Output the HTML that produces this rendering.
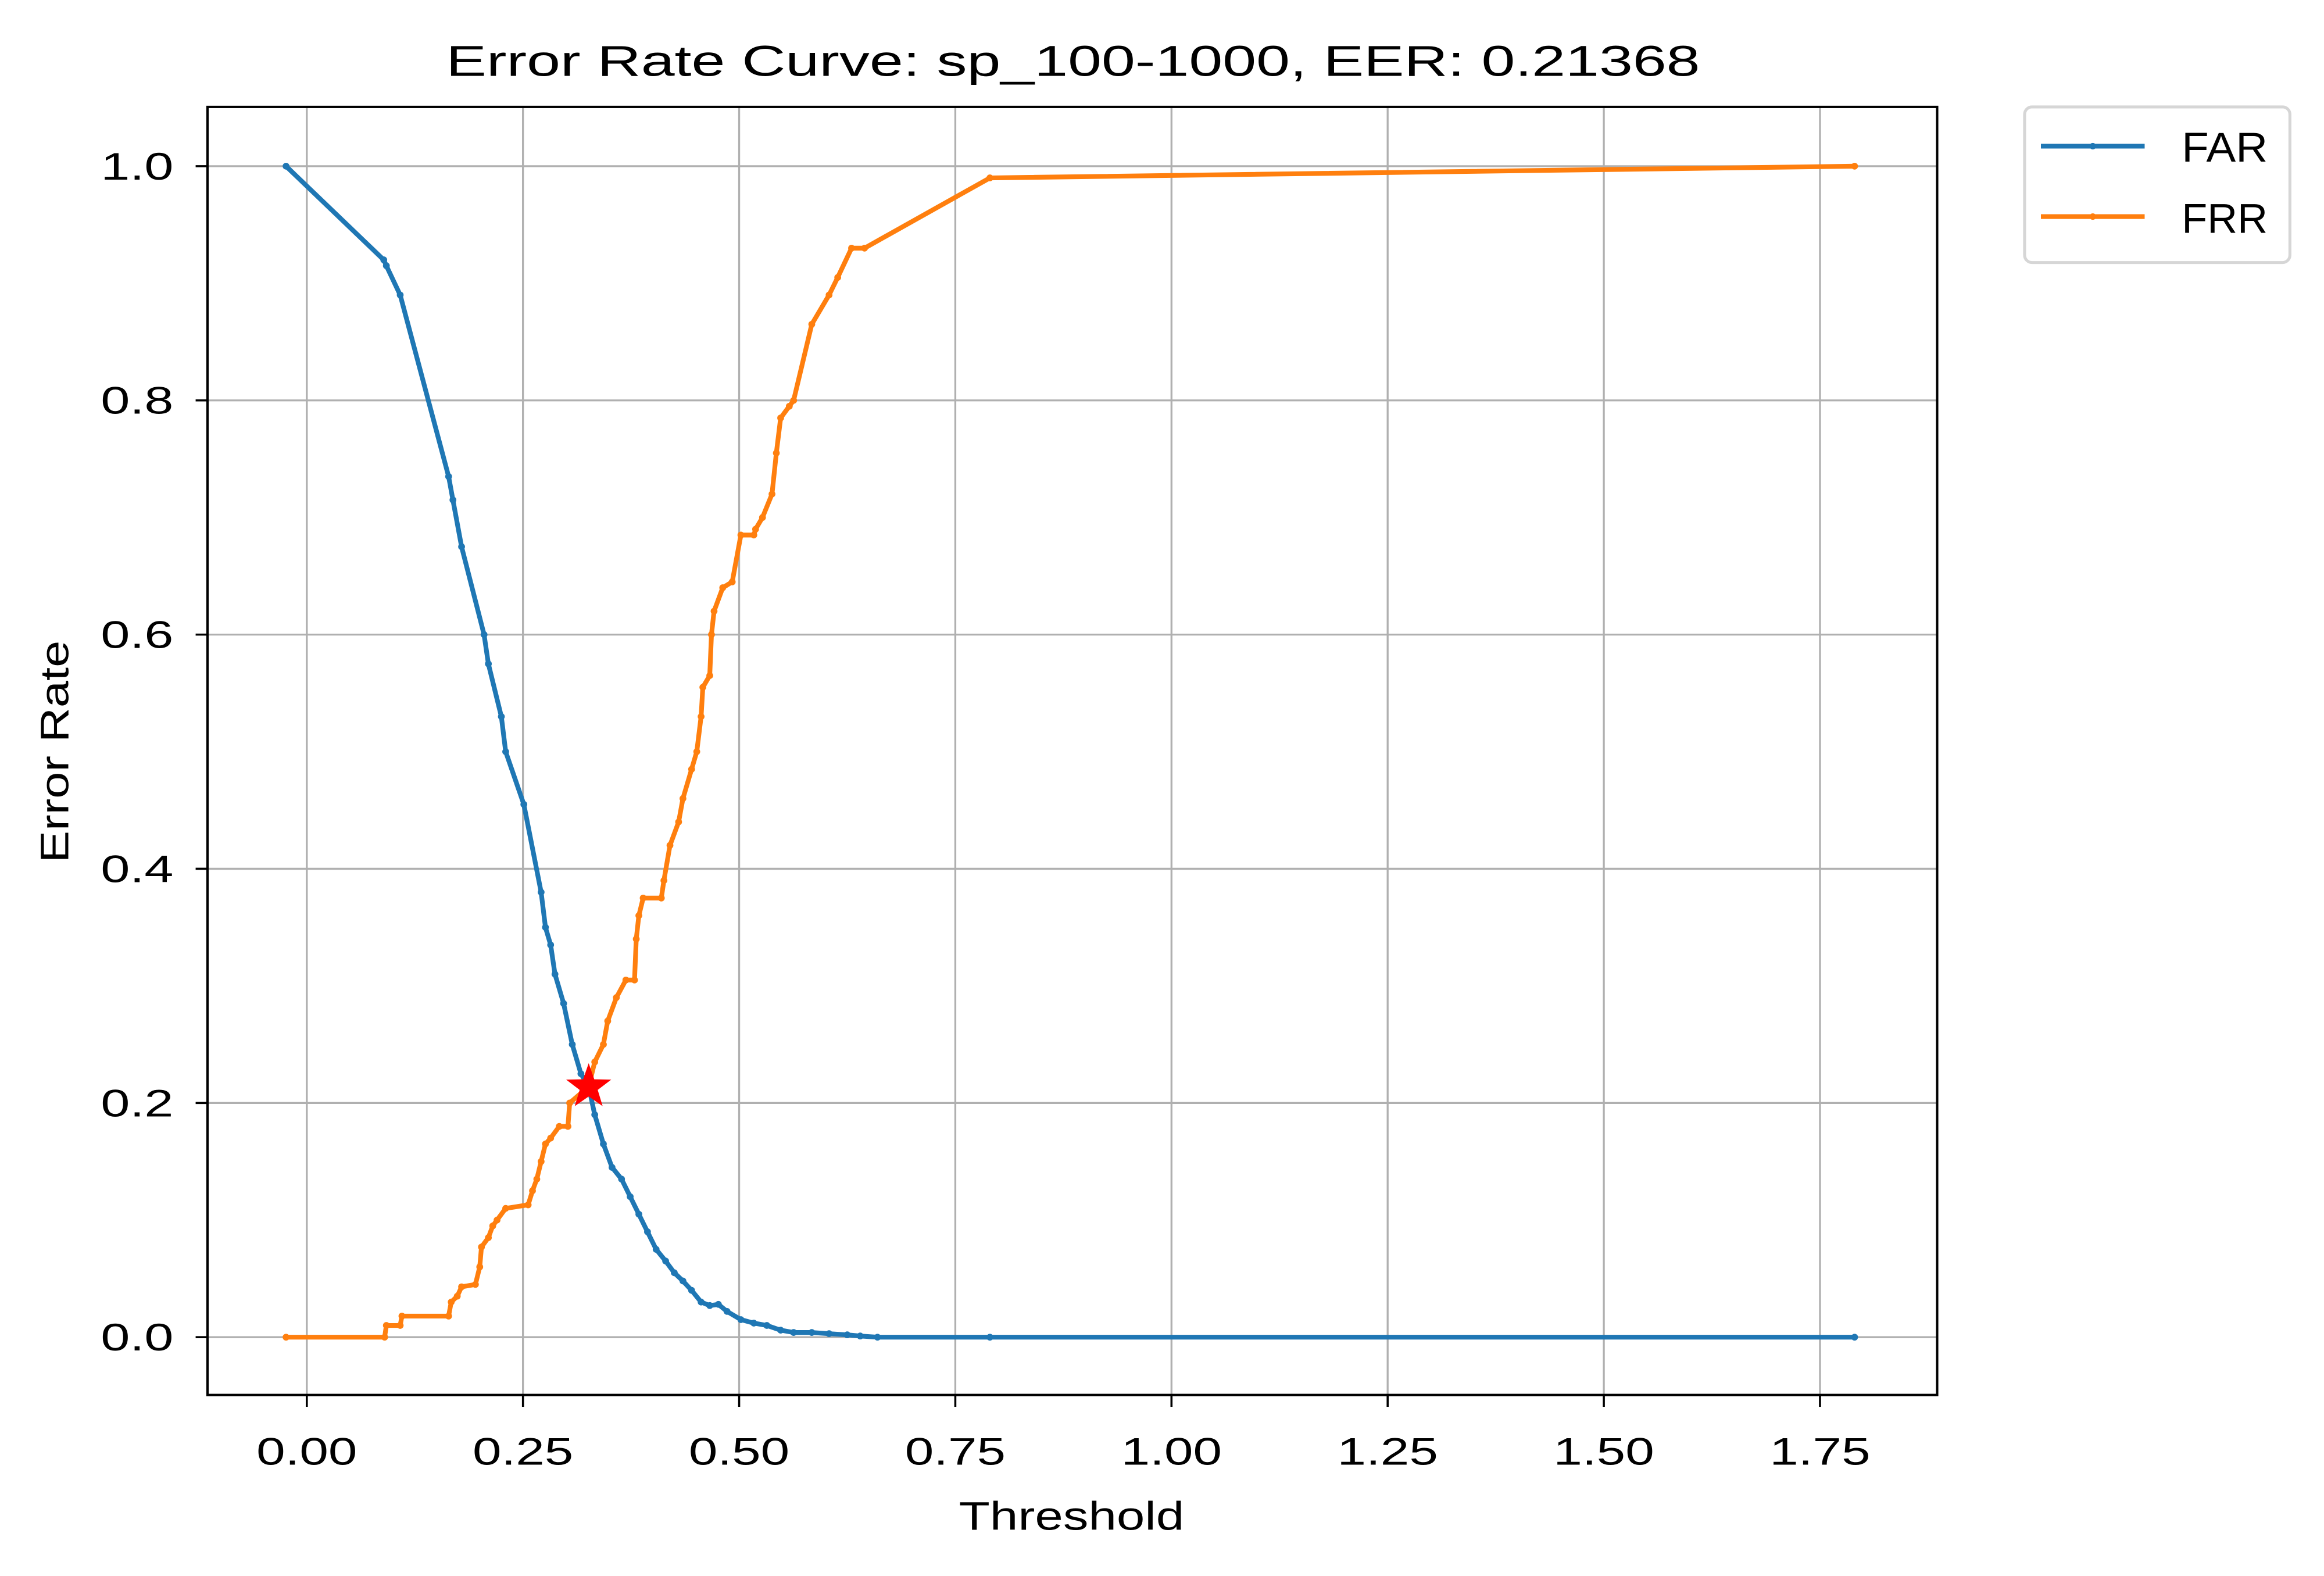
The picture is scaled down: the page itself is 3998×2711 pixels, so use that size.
<!DOCTYPE html>
<html><head><meta charset="utf-8"><style>html,body{margin:0;padding:0;background:#fff}svg{display:block}</style></head>
<body>
<svg id="chart" xmlns="http://www.w3.org/2000/svg" width="3998" height="2711" viewBox="0 0 1568 1063" font-family="'Liberation Sans','Noto Sans CJK JP',sans-serif">
<rect width="1568" height="1063" fill="#fff"/>
<g id="grid"></g>
<g id="series"></g>
<rect x="140" y="72" width="1167" height="869" fill="none" stroke="#000" stroke-width="1.6"/>
<g id="ticks"></g>
<text x="724" y="51" font-size="29" text-anchor="middle" textLength="846" lengthAdjust="spacingAndGlyphs">Error Rate Curve: sp_100-1000, EER: 0.21368</text>
<text x="723" y="1032" font-size="27" text-anchor="middle" textLength="152" lengthAdjust="spacingAndGlyphs">Threshold</text>
<text transform="translate(46,507) rotate(-90)" font-size="27" text-anchor="middle" textLength="150" lengthAdjust="spacingAndGlyphs">Error Rate</text>
<g>
<rect x="1366" y="72" width="179" height="105" rx="5" fill="#fff" stroke="#d6d6d6" stroke-width="2"/>
<g><line x1="1377" y1="98.5" x2="1447" y2="98.5" stroke="#1f77b4" stroke-width="3.2"/><circle cx="1412" cy="98.5" r="2.2" fill="#1f77b4"/><text x="1472" y="109" font-size="28" textLength="58" lengthAdjust="spacingAndGlyphs">FAR</text></g>
<g><line x1="1377" y1="146" x2="1447" y2="146" stroke="#ff7f0e" stroke-width="3.2"/><circle cx="1412" cy="146" r="2.2" fill="#ff7f0e"/><text x="1472" y="157" font-size="28" textLength="58" lengthAdjust="spacingAndGlyphs">FRR</text></g>
</g>
</svg>
<script>
const farX=[-0.024,0.089,0.092,0.108,0.164,0.169,0.179,0.205,0.21,0.225,0.23,0.251,0.271,0.276,0.282,0.287,0.297,0.307,0.317,0.326,0.333,0.343,0.353,0.364,0.374,0.384,0.394,0.404,0.415,0.425,0.435,0.445,0.456,0.466,0.476,0.486,0.502,0.517,0.532,0.548,0.563,0.584,0.604,0.625,0.64,0.66,0.79,1.79];
const farY=[1,0.92,0.915,0.89,0.735,0.715,0.675,0.6,0.575,0.53,0.5,0.455,0.38,0.35,0.335,0.31,0.285,0.25,0.225,0.214,0.19,0.165,0.145,0.135,0.12,0.105,0.09,0.075,0.065,0.055,0.048,0.04,0.03,0.027,0.028,0.022,0.015,0.012,0.01,0.006,0.004,0.004,0.003,0.002,0.001,0,0,0];
const frrX=[-0.024,0.09,0.092,0.108,0.11,0.164,0.167,0.174,0.179,0.195,0.2,0.202,0.21,0.215,0.22,0.23,0.256,0.261,0.266,0.271,0.276,0.282,0.292,0.302,0.304,0.326,0.333,0.343,0.348,0.358,0.369,0.379,0.381,0.384,0.389,0.41,0.413,0.42,0.43,0.435,0.445,0.451,0.456,0.458,0.466,0.468,0.471,0.481,0.492,0.502,0.517,0.519,0.527,0.538,0.543,0.548,0.558,0.563,0.584,0.604,0.614,0.63,0.645,0.79,1.79];
const frrY=[0,0,0.01,0.01,0.018,0.018,0.03,0.035,0.043,0.045,0.06,0.077,0.085,0.095,0.1,0.11,0.113,0.125,0.135,0.15,0.165,0.17,0.18,0.18,0.2,0.214,0.235,0.25,0.27,0.29,0.305,0.305,0.34,0.36,0.375,0.375,0.39,0.42,0.44,0.46,0.485,0.5,0.53,0.555,0.565,0.6,0.62,0.64,0.645,0.685,0.685,0.69,0.7,0.72,0.755,0.785,0.795,0.8,0.865,0.89,0.905,0.93,0.93,0.99,1.0];
const eer=[0.326,0.21368];
const xTicks=[0,0.25,0.5,0.75,1.0,1.25,1.5,1.75];
const xTickLabels=["0.00","0.25","0.50","0.75","1.00","1.25","1.50","1.75"];
const yTicks=[0,0.2,0.4,0.6,0.8,1.0];
const yTickLabels=["0.0","0.2","0.4","0.6","0.8","1.0"];

const NS="http://www.w3.org/2000/svg";
function sx(v){return 207+v*583.4;}
function sy(v){return 902-v*790;}
function mk(tag,attrs,parent){const e=document.createElementNS(NS,tag);for(const k in attrs)e.setAttribute(k,attrs[k]);parent.appendChild(e);return e;}
const grid=document.getElementById('grid'),ticks=document.getElementById('ticks'),series=document.getElementById('series');
xTicks.forEach((t,i)=>{
  const g=mk('line',{x1:sx(t),x2:sx(t),y1:72,y2:941,stroke:'#b0b0b0','stroke-width':1.3},grid);
  
  
  const tk=mk('line',{x1:sx(t),x2:sx(t),y1:941,y2:949,stroke:'#000','stroke-width':1.4},ticks);
  
  
  const tx=mk('text',{x:sx(t),y:988,'font-size':26,'text-anchor':'middle',textLength:68,lengthAdjust:'spacingAndGlyphs'},ticks);
  tx.textContent=xTickLabels[i];
  
  
});
yTicks.forEach((t,i)=>{
  const g=mk('line',{x1:140,x2:1307,y1:sy(t),y2:sy(t),stroke:'#b0b0b0','stroke-width':1.3},grid);
  
  
  const tk=mk('line',{x1:132,x2:140,y1:sy(t),y2:sy(t),stroke:'#000','stroke-width':1.4},ticks);
  
  
  const tx=mk('text',{x:117,y:sy(t)+9,'font-size':26,'text-anchor':'end',textLength:49,lengthAdjust:'spacingAndGlyphs'},ticks);
  tx.textContent=yTickLabels[i];
  
  
});
function drawSeries(xs,ys,color,name){
  const g=mk('g',{},series);
  
  
  const pts=xs.map((x,i)=>sx(x).toFixed(2)+','+sy(ys[i]).toFixed(2)).join(' ');
  const pl=mk('polyline',{points:pts,fill:'none',stroke:color,'stroke-width':3.2,'stroke-linejoin':'round'},g);
  
  
  xs.forEach((x,i)=>{
    const c=mk('circle',{cx:sx(x),cy:sy(ys[i]),r:2.3,fill:color},g);
    
    
  });
}
drawSeries(farX,farY,'#1f77b4','far-series');
drawSeries(frrX,frrY,'#ff7f0e','frr-series');
(function(){
  const cx=sx(eer[0]),cy=sy(eer[1]),R=14.5,r=5.8;let p=[];
  for(let k=0;k<10;k++){const a=-Math.PI/2+k*Math.PI/5;const rr=k%2?r:R;p.push((cx+rr*Math.cos(a)).toFixed(2)+','+(cy+rr*Math.sin(a)).toFixed(2));}
  const s=mk('polygon',{points:p.join(' '),fill:'#ff0000',stroke:'#ff0000','stroke-width':1},series);
  
  
})();
</script>
</body></html>
